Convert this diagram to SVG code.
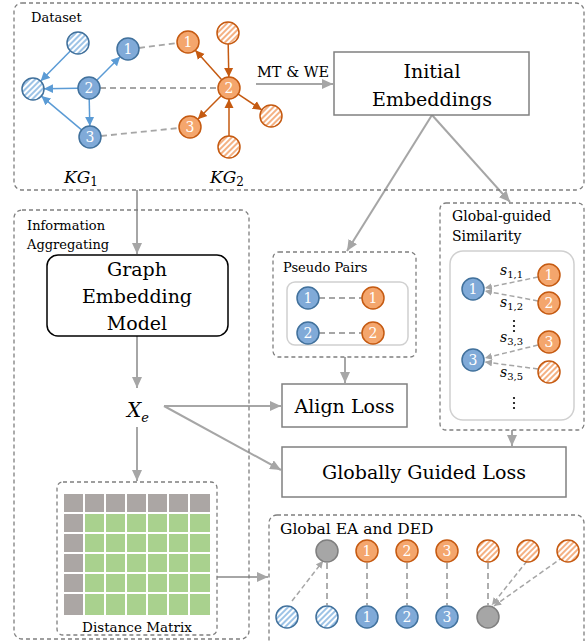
<svg xmlns="http://www.w3.org/2000/svg" width="587" height="641" viewBox="0 0 587 641">
<defs>
<style>
text{font-family:"DejaVu Serif","Liberation Serif",serif}
.dbox{fill:none;stroke:#7f7f7f;stroke-width:1.3;stroke-dasharray:4 3}
.lab{font-size:13px;fill:#000}
.big{font-size:19px;fill:#000;text-anchor:middle}
.num{font-size:14px;fill:#fff;text-anchor:middle}
.bn{fill:#80aad8;stroke:#41719c;stroke-width:1.5}
.on{fill:#f4a66d;stroke:#c55a11;stroke-width:1.5}
.bh{fill:url(#hb);stroke:#41719c;stroke-width:1.5}
.oh{fill:url(#ho);stroke:#c55a11;stroke-width:1.5}
.gn{fill:#a6a6a6;stroke:#7f7f7f;stroke-width:1.5}
.flow{stroke:#a6a6a6;stroke-width:2;fill:none;marker-end:url(#ag)}
.bl{stroke:#5b9bd5;stroke-width:1.5;fill:none;marker-end:url(#ab)}
.ol{stroke:#c55a11;stroke-width:1.5;fill:none;marker-end:url(#ao)}
.dash{stroke:#a6a6a6;stroke-width:1.8;stroke-dasharray:6 4;fill:none}
.dasha{stroke:#a6a6a6;stroke-width:1.5;stroke-dasharray:5 3;fill:none;marker-end:url(#as)}
.math{font-style:italic;fill:#000}
.cg{fill:#aba6a4}
.cgr{fill:#a9d18e}
</style>
<pattern id="hb" patternUnits="userSpaceOnUse" width="4" height="4" patternTransform="rotate(45)">
<rect width="4" height="4" fill="#fff"/><rect width="2" height="4" fill="#9dc3e6"/>
</pattern>
<pattern id="ho" patternUnits="userSpaceOnUse" width="4" height="4" patternTransform="rotate(45)">
<rect width="4" height="4" fill="#fff"/><rect width="2" height="4" fill="#f4b183"/>
</pattern>
<marker id="ag" markerUnits="userSpaceOnUse" markerWidth="12" markerHeight="10" refX="11" refY="5" orient="auto"><path d="M0,0 L11,5 L0,10 Z" fill="#a6a6a6"/></marker>
<marker id="ab" markerUnits="userSpaceOnUse" markerWidth="10" markerHeight="10" refX="9" refY="5" orient="auto"><path d="M0,0.5 L9,5 L0,9.5 Z" fill="#5b9bd5"/></marker>
<marker id="ao" markerUnits="userSpaceOnUse" markerWidth="10" markerHeight="10" refX="9" refY="5" orient="auto"><path d="M0,0.5 L9,5 L0,9.5 Z" fill="#c55a11"/></marker>
<marker id="as" markerUnits="userSpaceOnUse" markerWidth="8" markerHeight="8" refX="7" refY="4" orient="auto"><path d="M0,0.5 L7,4 L0,7.5 Z" fill="#a6a6a6"/></marker>
</defs>
<rect width="587" height="641" fill="#fff"/>

<g id="connectors">
<line class="bl" x1="70.3" y1="50.9" x2="40.7" y2="81.1"/>
<line class="bl" x1="78" y1="88.2" x2="44" y2="88.8"/>
<line class="bl" x1="81.6" y1="129.9" x2="41.4" y2="96.1"/>
<line class="bl" x1="96.8" y1="80.2" x2="120.2" y2="56.8"/>
<line class="bl" x1="89.2" y1="99" x2="89.8" y2="126"/>
<line class="ol" x1="221.7" y1="79.8" x2="195.3" y2="50.2"/>
<line class="ol" x1="228.2" y1="44" x2="228.8" y2="77"/>
<line class="ol" x1="221.2" y1="95.8" x2="197.8" y2="119.2"/>
<line class="ol" x1="238.2" y1="94.1" x2="261.8" y2="109.9"/>
<line class="ol" x1="229" y1="136" x2="229" y2="99"/>
<line class="dash" x1="139" y1="48" x2="177" y2="43"/>
<line class="dash" x1="100" y1="88" x2="218" y2="88"/>
<line class="dash" x1="101" y1="136" x2="179" y2="128"/>
<line class="flow" x1="256" y1="84" x2="333" y2="84"/>
<line class="flow" x1="432" y1="115" x2="347" y2="251"/>
<line class="flow" x1="432" y1="115" x2="510" y2="202"/>
<line class="flow" x1="137" y1="190" x2="137" y2="254"/>
<line class="flow" x1="137" y1="336" x2="137" y2="388"/>
<line class="flow" x1="137" y1="427" x2="137" y2="481"/>
<line class="flow" x1="164" y1="406" x2="281" y2="406"/>
<line class="flow" x1="164" y1="406" x2="281" y2="470"/>
<line class="flow" x1="345" y1="357" x2="345" y2="383"/>
<line class="flow" x1="512" y1="430" x2="512" y2="446"/>
<line class="flow" x1="217" y1="577" x2="268" y2="577"/>
<line class="dash" x1="319" y1="298" x2="362" y2="298"/>
<line class="dash" x1="319" y1="333" x2="362" y2="333"/>
<line class="dasha" x1="538" y1="277" x2="485" y2="288"/>
<line class="dasha" x1="538" y1="301" x2="485" y2="291"/>
<line class="dasha" x1="538" y1="345" x2="485" y2="358"/>
<line class="dasha" x1="538" y1="369" x2="485" y2="362"/>
<line class="dash" x1="327" y1="563" x2="327" y2="605"/>
<line class="dash" x1="367" y1="563" x2="367" y2="605"/>
<line class="dash" x1="407" y1="563" x2="407" y2="605"/>
<line class="dash" x1="447" y1="563" x2="447" y2="605"/>
<line class="dash" x1="488" y1="563" x2="488" y2="605"/>
<line class="dasha" x1="292" y1="601" x2="323" y2="561"/>
<line class="dasha" x1="527" y1="561" x2="492" y2="605"/>
<line class="dasha" x1="563" y1="557" x2="494" y2="606"/>
</g>

<g id="dataset">
<rect class="dbox" x="14" y="3" width="570" height="187" rx="8"/>
<text class="lab" x="31" y="22">Dataset</text>
<circle class="bh" cx="78" cy="43" r="11"/>
<circle class="bh" cx="33" cy="89" r="11"/>
<circle class="bn" cx="128" cy="49" r="11"/><text class="num" x="128" y="54">1</text>
<circle class="bn" cx="89" cy="88" r="11"/><text class="num" x="89" y="93">2</text>
<circle class="bn" cx="90" cy="137" r="11"/><text class="num" x="90" y="142">3</text>
<circle class="on" cx="188" cy="42" r="11"/><text class="num" x="188" y="47">1</text>
<circle class="oh" cx="228" cy="33" r="11"/>
<circle class="on" cx="229" cy="88" r="11"/><text class="num" x="229" y="93">2</text>
<circle class="oh" cx="271" cy="116" r="11"/>
<circle class="on" cx="190" cy="127" r="11"/><text class="num" x="190" y="132">3</text>
<circle class="oh" cx="229" cy="147" r="11"/>
<text class="math" x="64" y="183" font-size="17">KG<tspan font-style="normal" font-size="12" dy="3">1</tspan></text>
<text class="math" x="210" y="183" font-size="17">KG<tspan font-style="normal" font-size="12" dy="3">2</tspan></text>
<text x="257" y="77" font-size="14.5">MT &amp; WE</text>
</g>

<g id="initial-embeddings">
<rect x="334" y="52" width="195" height="63" fill="#fff" stroke="#808080" stroke-width="1.5"/>
<text class="big" x="432" y="78">Initial</text>
<text class="big" x="432" y="106">Embeddings</text>
</g>

<g id="information-aggregating">
<rect class="dbox" x="14" y="210" width="235" height="429" rx="8"/>
<text class="lab" x="27" y="230">Information</text>
<text class="lab" x="27" y="249">Aggregating</text>
</g>

<g id="graph-embedding-model">
<rect x="47" y="255" width="181" height="81" rx="11" fill="#fff" stroke="#000" stroke-width="1.5"/>
<text class="big" x="137" y="276">Graph</text>
<text class="big" x="137" y="303">Embedding</text>
<text class="big" x="137" y="330">Model</text>
</g>

<g id="xe">
<text class="math" x="127" y="417" font-size="20">X<tspan font-size="13" dy="5">e</tspan></text>
</g>

<g id="distance-matrix">
<rect class="dbox" x="57" y="482" width="160" height="153" rx="6"/>
<g>
<rect class="cg" x="64" y="494" width="19" height="18"/><rect class="cg" x="85" y="494" width="19" height="18"/><rect class="cg" x="106" y="494" width="19" height="18"/><rect class="cg" x="127" y="494" width="19" height="18"/><rect class="cg" x="148" y="494" width="19" height="18"/><rect class="cg" x="169" y="494" width="19" height="18"/><rect class="cg" x="190" y="494" width="20" height="18"/>
<rect class="cg" x="64" y="514" width="19" height="18"/><rect class="cg" x="64" y="534" width="19" height="18"/><rect class="cg" x="64" y="554" width="19" height="18"/><rect class="cg" x="64" y="574" width="19" height="18"/><rect class="cg" x="64" y="594" width="19" height="21"/>
</g>
<g class="cgr">
<rect x="85" y="514" width="19" height="18"/><rect x="106" y="514" width="19" height="18"/><rect x="127" y="514" width="19" height="18"/><rect x="148" y="514" width="19" height="18"/><rect x="169" y="514" width="19" height="18"/><rect x="190" y="514" width="20" height="18"/>
<rect x="85" y="534" width="19" height="18"/><rect x="106" y="534" width="19" height="18"/><rect x="127" y="534" width="19" height="18"/><rect x="148" y="534" width="19" height="18"/><rect x="169" y="534" width="19" height="18"/><rect x="190" y="534" width="20" height="18"/>
<rect x="85" y="554" width="19" height="18"/><rect x="106" y="554" width="19" height="18"/><rect x="127" y="554" width="19" height="18"/><rect x="148" y="554" width="19" height="18"/><rect x="169" y="554" width="19" height="18"/><rect x="190" y="554" width="20" height="18"/>
<rect x="85" y="574" width="19" height="18"/><rect x="106" y="574" width="19" height="18"/><rect x="127" y="574" width="19" height="18"/><rect x="148" y="574" width="19" height="18"/><rect x="169" y="574" width="19" height="18"/><rect x="190" y="574" width="20" height="18"/>
<rect x="85" y="594" width="19" height="21"/><rect x="106" y="594" width="19" height="21"/><rect x="127" y="594" width="19" height="21"/><rect x="148" y="594" width="19" height="21"/><rect x="169" y="594" width="19" height="21"/><rect x="190" y="594" width="20" height="21"/>
</g>
<text x="137" y="632" font-size="13.5" text-anchor="middle">Distance Matrix</text>
</g>

<g id="pseudo-pairs">
<rect class="dbox" x="273" y="252" width="143" height="105" rx="6"/>
<text class="lab" x="283" y="272">Pseudo Pairs</text>
<rect x="287" y="282" width="121" height="63" rx="8" fill="none" stroke="#d0d0d0" stroke-width="1.5"/>
<circle class="bn" cx="308" cy="298" r="11"/><text class="num" x="308" y="303">1</text>
<circle class="on" cx="373" cy="298" r="11"/><text class="num" x="373" y="303">1</text>
<circle class="bn" cx="308" cy="333" r="11"/><text class="num" x="308" y="338">2</text>
<circle class="on" cx="373" cy="333" r="11"/><text class="num" x="373" y="338">2</text>
</g>

<g id="global-guided-similarity">
<rect class="dbox" x="440" y="203" width="144" height="227" rx="6"/>
<text x="452" y="221" font-size="14">Global-guided</text>
<text x="452" y="241" font-size="14">Similarity</text>
<rect x="450" y="251" width="124" height="169" rx="13" fill="none" stroke="#d0d0d0" stroke-width="1.5"/>
<circle class="bn" cx="473" cy="289" r="11"/><text class="num" x="473" y="294">1</text>
<circle class="on" cx="549" cy="275" r="11"/><text class="num" x="549" y="280">1</text>
<circle class="on" cx="549" cy="303" r="11"/><text class="num" x="549" y="308">2</text>
<circle class="on" cx="549" cy="342" r="11"/><text class="num" x="549" y="347">3</text>
<circle class="bn" cx="473" cy="360" r="11"/><text class="num" x="473" y="365">3</text>
<circle class="oh" cx="549" cy="372" r="11"/>
<text class="math" x="500" y="275" font-size="14">s<tspan font-style="normal" font-size="10" dy="3">1,1</tspan></text>
<text class="math" x="500" y="307" font-size="14">s<tspan font-style="normal" font-size="10" dy="3">1,2</tspan></text>
<text class="math" x="500" y="342" font-size="14">s<tspan font-style="normal" font-size="10" dy="3">3,3</tspan></text>
<text class="math" x="500" y="377" font-size="14">s<tspan font-style="normal" font-size="10" dy="3">3,5</tspan></text>
<g fill="#000"><circle cx="514" cy="321" r="1.1"/><circle cx="514" cy="326" r="1.1"/><circle cx="514" cy="331" r="1.1"/>
<circle cx="514" cy="398" r="1.1"/><circle cx="514" cy="403" r="1.1"/><circle cx="514" cy="408" r="1.1"/></g>
</g>

<g id="align-loss">
<rect x="282" y="384" width="125" height="43" fill="#fff" stroke="#808080" stroke-width="1.5"/>
<text class="big" x="344.5" y="413">Align Loss</text>
</g>

<g id="globally-guided-loss">
<rect x="282" y="447" width="284" height="50" fill="#fff" stroke="#808080" stroke-width="1.5"/>
<text class="big" x="424" y="479">Globally Guided Loss</text>
</g>

<g id="global-ea-ded">
<rect class="dbox" x="269" y="515" width="315" height="135" rx="8"/>
<text x="280" y="534" font-size="15.5">Global EA and DED</text>
<circle class="gn" cx="327" cy="551" r="11"/>
<circle class="on" cx="367" cy="551" r="11"/><text class="num" x="367" y="556">1</text>
<circle class="on" cx="407" cy="551" r="11"/><text class="num" x="407" y="556">2</text>
<circle class="on" cx="447" cy="551" r="11"/><text class="num" x="447" y="556">3</text>
<circle class="oh" cx="488" cy="551" r="11"/>
<circle class="oh" cx="528" cy="551" r="11"/>
<circle class="oh" cx="568" cy="551" r="11"/>
<circle class="bh" cx="287" cy="617" r="11"/>
<circle class="bh" cx="327" cy="617" r="11"/>
<circle class="bn" cx="367" cy="617" r="11"/><text class="num" x="367" y="622">1</text>
<circle class="bn" cx="407" cy="617" r="11"/><text class="num" x="407" y="622">2</text>
<circle class="bn" cx="447" cy="617" r="11"/><text class="num" x="447" y="622">3</text>
<circle class="gn" cx="488" cy="617" r="11"/>
</g>
</svg>
